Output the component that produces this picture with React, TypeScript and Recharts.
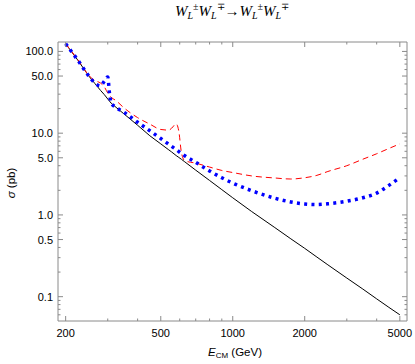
import React from 'react';
import { LineChart, Line, XAxis, YAxis } from 'recharts';

// energies (GeV) shared by all three curves
const ENERGY = [
  200, 225, 250, 265, 280, 290, 300, 305, 310, 325, 350, 400, 450, 500, 540, 555,
  580, 595, 610, 630, 700, 800, 900, 1000, 1200, 1500, 1750, 2000, 2250, 2500,
  3000, 3500, 4000, 4500, 5000,
];

// sigma (pb) per curve
const SOLID = [
  124, 78, 50, 40.5, 33.3, 29.7, 26.2, 24.7, 23.3, 20.7, 17.3, 12.5, 9.3, 7.4, 6.25, 5.89,
  5.32, 5.05, 4.79, 4.46, 3.53, 2.64, 2.04, 1.62, 1.1, 0.7, 0.51, 0.39, 0.305, 0.245,
  0.169, 0.124, 0.094, 0.074, 0.06,
];
const DOTTED = [
  124, 78, 50, 41, 38, 43, 48.7, 31, 23.5, 20.6, 18.1, 13.6, 10.7, 8.6, 7.3, 6.9,
  6.3, 5.95, 5.65, 5.3, 4.4, 3.45, 2.85, 2.45, 1.98, 1.6, 1.44, 1.36, 1.34, 1.37,
  1.47, 1.62, 1.85, 2.3, 2.85,
];
const DASHED = [
  124, 79, 51, 44, 41, 37, 31, 29, 27.5, 25, 20.5, 15.5, 12.9, 11.1, 10.9, 11.5,
  13.0, 10.5, 5.8, 4.6, 4.3, 3.85, 3.5, 3.3, 3.0, 2.83, 2.75, 2.85, 3.05, 3.4,
  4.0, 4.8, 5.6, 6.5, 7.4,
];

const X_MAJOR = [200, 500, 1000, 2000, 5000];
const X_MINOR = [300, 400, 600, 700, 800, 900, 3000, 4000];
const Y_MAJOR = [0.1, 0.5, 1, 5, 10, 50, 100];
const Y_MINOR = [
  0.06, 0.07, 0.08, 0.09, 0.2, 0.3, 0.4, 0.6, 0.7, 0.8, 0.9, 2, 3, 4, 6, 7, 8, 9,
  20, 30, 40, 60, 70, 80, 90,
];

const data = ENERGY.map((e, i) => ({
  e,
  solid: SOLID[i],
  dotted: DOTTED[i],
  dashed: DASHED[i],
}));

const FRAME = '#8a8a8a';
const FONT = '"Liberation Sans", Arial, sans-serif';

const fmtY = (v: number) => (v >= 1 ? v.toFixed(1) : String(v));

function makeTick(side: 'bottom' | 'top' | 'left' | 'right', majors: number[]) {
  return (props: any) => {
    const { x, y, payload } = props;
    const v = payload.value;
    const major = majors.includes(v);
    const len = major ? 5 : 2.5;
    let line;
    let label = null;
    if (side === 'bottom') {
      line = <line x1={x} y1={y} x2={x} y2={y - len} stroke={FRAME} />;
      if (major)
        label = (
          <text x={x} y={y + 16} textAnchor="middle" fontSize={11} fontFamily={FONT} fill="#000">
            {v}
          </text>
        );
    } else if (side === 'top') {
      line = <line x1={x} y1={y} x2={x} y2={y + len} stroke={FRAME} />;
    } else if (side === 'left') {
      line = <line x1={x} y1={y} x2={x + len} y2={y} stroke={FRAME} />;
      if (major)
        label = (
          <text x={x - 5} y={y + 4} textAnchor="end" fontSize={11} fontFamily={FONT} fill="#000">
            {fmtY(v)}
          </text>
        );
    } else {
      line = <line x1={x} y1={y} x2={x - len} y2={y} stroke={FRAME} />;
    }
    return (
      <g>
        {line}
        {label}
      </g>
    );
  };
}

const X_DOMAIN: [number, number] = [185.8, 5357];
const Y_DOMAIN: [number, number] = [0.0504, 130.4];
const X_TICKS = [...X_MAJOR, ...X_MINOR].sort((a, b) => a - b);
const Y_TICKS = [...Y_MAJOR, ...Y_MINOR].sort((a, b) => a - b);

export default function App() {
  return (
    <div style={{ position: 'absolute', left: 0, top: 0, width: 415, height: 364, background: '#fff' }}>
      <LineChart
        width={415}
        height={364}
        data={data}
        margin={{ top: 32, right: 0, bottom: 13, left: 8 }}
      >
        <XAxis
          xAxisId="b"
          dataKey="e"
          type="number"
          scale="log"
          domain={X_DOMAIN}
          allowDataOverflow
          ticks={X_TICKS}
          interval={0}
          height={30}
          tickSize={0}
          tickMargin={0}
          tickLine={false}
          axisLine={{ stroke: FRAME }}
          tick={makeTick('bottom', X_MAJOR)}
        />
        <XAxis
          xAxisId="t"
          orientation="top"
          dataKey="e"
          type="number"
          scale="log"
          domain={X_DOMAIN}
          allowDataOverflow
          ticks={X_TICKS}
          interval={0}
          height={10}
          tickSize={0}
          tickMargin={0}
          tickLine={false}
          axisLine={{ stroke: FRAME }}
          tick={makeTick('top', X_MAJOR)}
        />
        <YAxis
          yAxisId="l"
          type="number"
          scale="log"
          domain={Y_DOMAIN}
          allowDataOverflow
          ticks={Y_TICKS}
          interval={0}
          width={50}
          tickSize={0}
          tickMargin={0}
          tickLine={false}
          axisLine={{ stroke: FRAME }}
          tick={makeTick('left', Y_MAJOR)}
        />
        <YAxis
          yAxisId="r"
          orientation="right"
          type="number"
          scale="log"
          domain={Y_DOMAIN}
          allowDataOverflow
          ticks={Y_TICKS}
          interval={0}
          width={8}
          tickSize={0}
          tickMargin={0}
          tickLine={false}
          axisLine={{ stroke: FRAME }}
          tick={makeTick('right', Y_MAJOR)}
        />
        <Line
          xAxisId="b"
          yAxisId="l"
          dataKey="solid"
          type="linear"
          stroke="#000"
          strokeWidth={1}
          dot={false}
          isAnimationActive={false}
        />
        <Line
          xAxisId="b"
          yAxisId="l"
          dataKey="dashed"
          type="monotone"
          stroke="#ff0000"
          strokeWidth={1}
          strokeDasharray="6 4"
          dot={false}
          isAnimationActive={false}
        />
        <Line
          xAxisId="b"
          yAxisId="l"
          dataKey="dotted"
          type="monotone"
          stroke="#0000ff"
          strokeWidth={3.5}
          strokeDasharray="3 4.3"
          dot={false}
          isAnimationActive={false}
        />
      </LineChart>
      <svg
        width={415}
        height={364}
        style={{ position: 'absolute', left: 0, top: 0, pointerEvents: 'none' }}
      >
        <text
          x={232}
          y={16}
          textAnchor="middle"
          fontFamily='"Liberation Serif", "Times New Roman", serif'
          fontStyle="italic"
          fontSize={15}
          fill="#000"
        >
          W<tspan fontSize={10} dy={3}>L</tspan>
          <tspan fontSize={10} fontStyle="normal" dy={-9}>±</tspan>
          <tspan dy={6}>W</tspan>
          <tspan fontSize={10} dy={3}>L</tspan>
          <tspan fontSize={10} fontStyle="normal" dy={-9}>∓</tspan>
          <tspan fontStyle="normal" dy={6}>→</tspan>
          <tspan>W</tspan>
          <tspan fontSize={10} dy={3}>L</tspan>
          <tspan fontSize={10} fontStyle="normal" dy={-9}>±</tspan>
          <tspan dy={6}>W</tspan>
          <tspan fontSize={10} dy={3}>L</tspan>
          <tspan fontSize={10} fontStyle="normal" dy={-9}>∓</tspan>
        </text>
        <text x={235} y={356} textAnchor="middle" fontFamily={FONT} fontSize={11.5} fill="#000">
          <tspan fontStyle="italic">E</tspan>
          <tspan fontSize={8} dy={2}>CM</tspan>
          <tspan dy={-2}> (GeV)</tspan>
        </text>
        <text
          x={14.5}
          y={183}
          transform="rotate(-90 14.5 183)"
          textAnchor="middle"
          fontFamily={FONT}
          fontSize={11.5}
          fill="#000"
        >
          <tspan fontStyle="italic">σ</tspan> (pb)
        </text>
      </svg>
    </div>
  );
}
